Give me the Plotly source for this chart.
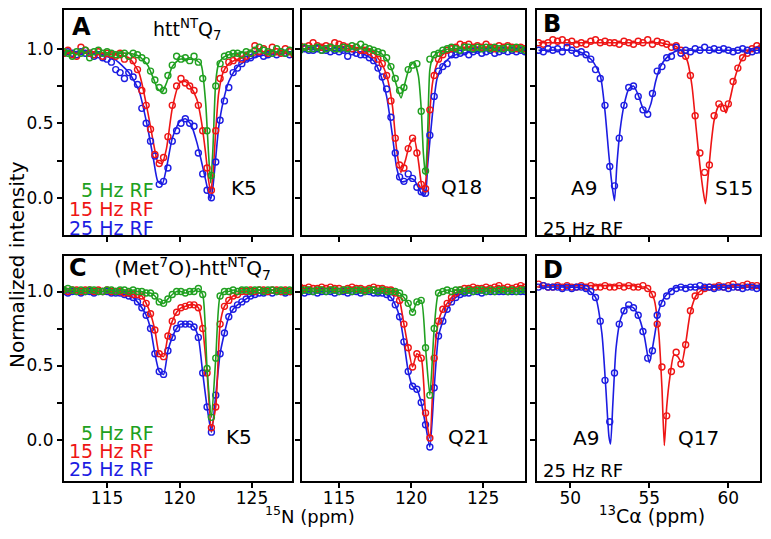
import plotly.graph_objects as go

W, H = 771, 539
FONT = "DejaVu Sans, Liberation Sans, Arial, sans-serif"
GREEN, RED, BLUE = "#20a020", "#ee1515", "#1c1ce2"

# shared sampling grids (ppm)
n15_ppm = [112.0, 112.3, 112.6, 112.9, 113.2, 113.5, 113.8, 114.1, 114.4, 114.7,
           115.0, 115.3, 115.6, 115.9, 116.2, 116.5, 116.8, 117.1, 117.4, 117.7,
           118.0, 118.3, 118.6, 118.9, 119.2, 119.5, 119.8, 120.1, 120.4, 120.7,
           121.0, 121.3, 121.6, 121.9, 122.2, 122.5, 122.8, 123.1, 123.4, 123.7,
           124.0, 124.3, 124.6, 124.9, 125.2, 125.5, 125.8, 126.1, 126.4, 126.7,
           127.0, 127.3, 127.6, 127.9]
c13_ppm = [48.0, 48.3, 48.6, 48.9, 49.2, 49.5, 49.8, 50.1, 50.4, 50.7,
           51.0, 51.3, 51.6, 51.9, 52.2, 52.5, 52.8, 53.1, 53.4, 53.7,
           54.0, 54.3, 54.6, 54.9, 55.2, 55.5, 55.8, 56.1, 56.4, 56.7,
           57.0, 57.3, 57.6, 57.9, 58.2, 58.5, 58.8, 59.1, 59.4, 59.7,
           60.0, 60.3, 60.6, 60.9, 61.2, 61.5, 61.8, 62.1]

# ---- panel A: httNTQ7, K5 ----
a_5hz = [0.98, 0.97, 0.95, 0.98, 0.97, 0.99, 0.94, 0.98, 0.99, 0.97,
         0.98, 0.97, 0.96, 0.96, 0.97, 0.95, 0.97, 0.96, 0.94, 0.92,
         0.85, 0.79, 0.74, 0.72, 0.82, 0.89, 0.95, 0.93, 0.94, 0.92,
         0.95, 0.91, 0.80, 0.45, 0.15, 0.75, 0.90, 0.95, 0.96, 0.97,
         0.97, 0.96, 0.98, 0.97, 0.99, 1.01, 0.99, 0.98, 0.97, 1.00,
         0.98, 0.97, 0.99, 0.97]
a_15hz = [0.97, 0.99, 0.96, 0.95, 1.01, 0.99, 0.97, 0.96, 0.98, 0.95,
          0.97, 0.96, 0.95, 0.97, 0.93, 0.95, 0.92, 0.86, 0.72, 0.62,
          0.46, 0.29, 0.23, 0.27, 0.41, 0.62, 0.75, 0.80, 0.77, 0.75,
          0.72, 0.62, 0.45, 0.20, 0.05, 0.45, 0.80, 0.86, 0.91, 0.92,
          0.94, 0.93, 0.95, 0.97, 1.02, 0.98, 1.00, 0.97, 1.01, 0.98,
          0.97, 1.00, 0.98, 0.96]
a_25hz = [0.97, 0.98, 0.97, 0.96, 0.98, 0.97, 0.97, 0.95, 0.96, 0.94,
          0.93, 0.91, 0.86, 0.84, 0.80, 0.84, 0.81, 0.76, 0.60, 0.50,
          0.38, 0.28, 0.09, 0.11, 0.20, 0.38, 0.45, 0.50, 0.53, 0.50,
          0.48, 0.30, 0.16, 0.05, 0.00, 0.24, 0.52, 0.65, 0.74, 0.84,
          0.87, 0.90, 0.93, 0.94, 0.96, 0.97, 0.95, 0.96, 0.97, 0.96,
          0.98, 0.97, 0.96, 0.97]
a_fit_ppm = [112.0, 114.0, 115.5, 116.5, 117.2, 117.8, 118.2, 118.5, 118.8, 119.1,
             119.5, 120.0, 120.4, 120.8, 121.2, 121.5, 121.8, 122.0, 122.15, 122.3,
             122.5, 122.7, 123.0, 123.4, 124.0, 124.8, 126.0, 128.0]
a_fit_5hz = [0.98, 0.98, 0.97, 0.97, 0.95, 0.89, 0.80, 0.73, 0.71, 0.77,
             0.88, 0.93, 0.93, 0.93, 0.92, 0.89, 0.64, 0.30, 0.10, 0.32,
             0.78, 0.90, 0.94, 0.96, 0.97, 0.98, 0.98, 0.98]
a_fit_15hz = [0.97, 0.97, 0.96, 0.94, 0.84, 0.58, 0.37, 0.24, 0.23, 0.33,
              0.60, 0.77, 0.78, 0.74, 0.66, 0.52, 0.30, 0.12, 0.04, 0.15,
              0.45, 0.70, 0.84, 0.90, 0.93, 0.95, 0.97, 0.97]
a_fit_25hz = [0.97, 0.97, 0.93, 0.84, 0.72, 0.47, 0.26, 0.11, 0.09, 0.20,
              0.40, 0.51, 0.53, 0.49, 0.37, 0.25, 0.12, 0.03, -0.01, 0.07,
              0.27, 0.47, 0.64, 0.78, 0.88, 0.93, 0.96, 0.97]

# ---- panel A, middle: Q18 ----
q18_5hz = [1.00, 0.99, 1.01, 1.00, 1.00, 1.01, 0.99, 1.00, 1.01, 1.00,
           1.00, 1.01, 1.00, 1.02, 1.01, 1.03, 1.01, 1.00, 0.99, 0.98,
           0.97, 0.94, 0.88, 0.80, 0.72, 0.74, 0.86, 0.89, 0.90, 0.58,
           0.18, 0.93, 0.96, 0.97, 0.99, 1.00, 1.01, 1.00, 0.99, 1.01,
           1.01, 1.00, 1.01, 1.00, 1.01, 1.00, 1.01, 1.00, 1.00, 1.01,
           1.00, 1.01, 1.00, 0.99]
q18_15hz = [1.02, 1.02, 1.01, 1.02, 1.04, 1.02, 1.01, 1.02, 1.01, 1.04,
            1.03, 1.02, 1.01, 1.00, 1.01, 0.99, 0.99, 0.98, 0.96, 0.93,
            0.90, 0.82, 0.65, 0.40, 0.22, 0.20, 0.33, 0.40, 0.30, 0.09,
            0.06, 0.59, 0.82, 0.93, 0.96, 0.99, 1.00, 1.01, 1.03, 1.02,
            1.03, 1.01, 1.02, 1.01, 1.03, 1.01, 1.00, 1.02, 1.01, 1.02,
            1.01, 1.00, 1.01, 1.00]
q18_25hz = [0.99, 0.99, 1.00, 0.99, 0.99, 1.00, 0.99, 0.99, 0.98, 0.99,
            0.98, 0.99, 0.95, 0.98, 0.97, 0.96, 0.96, 0.94, 0.92, 0.87,
            0.81, 0.73, 0.54, 0.30, 0.14, 0.11, 0.16, 0.13, 0.07, 0.04,
            0.03, 0.42, 0.68, 0.85, 0.88, 0.90, 0.96, 0.96, 0.97, 0.98,
            0.96, 0.98, 0.99, 0.97, 0.98, 0.99, 0.97, 0.98, 0.99, 0.98,
            0.99, 0.98, 0.99, 0.98]
q18_fit_ppm = [112.0, 114.0, 116.0, 116.8, 117.4, 117.9, 118.3, 118.7, 119.0, 119.3,
               119.6, 119.9, 120.2, 120.5, 120.7, 120.85, 121.0, 121.15, 121.3, 121.5,
               121.8, 122.2, 122.8, 123.6, 124.5, 126.0, 128.0]
q18_fit_5hz = [1.00, 1.00, 1.00, 1.00, 0.99, 0.97, 0.93, 0.85, 0.75, 0.67,
               0.78, 0.88, 0.91, 0.82, 0.60, 0.30, 0.15, 0.45, 0.86, 0.94,
               0.97, 0.99, 1.00, 1.00, 1.00, 1.00, 1.00]
q18_fit_15hz = [1.02, 1.02, 1.01, 1.00, 0.97, 0.91, 0.82, 0.62, 0.32, 0.17,
                0.25, 0.36, 0.40, 0.25, 0.10, 0.05, 0.10, 0.30, 0.58, 0.78,
                0.90, 0.96, 0.99, 1.01, 1.01, 1.01, 1.01]
q18_fit_25hz = [1.00, 0.99, 0.98, 0.96, 0.92, 0.82, 0.68, 0.42, 0.20, 0.11,
                0.11, 0.13, 0.12, 0.07, 0.03, 0.01, 0.03, 0.22, 0.38, 0.58,
                0.80, 0.89, 0.95, 0.97, 0.98, 0.99, 0.99]

# ---- panel B: 13C alpha, A9 (blue) and S15 (red) ----
b_a9 = [0.99, 0.98, 1.00, 0.99, 1.00, 0.98, 1.01, 0.99, 0.97, 0.98,
        0.96, 0.93, 0.86, 0.80, 0.62, 0.21, 0.08, 0.40, 0.62, 0.74,
        0.75, 0.68, 0.59, 0.56, 0.70, 0.85, 0.88, 0.94, 0.95, 1.01,
        0.97, 0.99, 0.98, 1.00, 0.99, 1.01, 0.99, 1.00, 0.99, 1.00,
        0.99, 0.98, 0.99, 1.00, 0.99, 0.98, 0.99, 0.99]
b_s15 = [1.04, 1.03, 1.04, 1.06, 1.05, 1.06, 1.04, 1.05, 1.03, 1.04,
         1.03, 1.05, 1.06, 1.04, 1.05, 1.04, 1.04, 1.03, 1.05, 1.04,
         1.03, 1.05, 1.04, 1.06, 1.03, 1.05, 1.04, 1.03, 1.01, 1.02,
         0.99, 0.95, 0.82, 0.55, 0.30, 0.17, 0.22, 0.55, 0.63, 0.60,
         0.63, 0.78, 0.87, 0.94, 0.97, 1.00, 1.02, 1.01]
b_fit_ppm = [48.0, 50.0, 50.8, 51.4, 51.9, 52.2, 52.45, 52.65, 52.8, 52.95,
             53.15, 53.4, 53.7, 54.0, 54.3, 54.6, 54.85, 55.1, 55.4, 55.7,
             56.1, 56.6, 57.0, 57.4, 57.7, 57.95, 58.2, 58.4, 58.55, 58.7,
             58.9, 59.1, 59.4, 59.6, 59.85, 60.1, 60.4, 60.8, 61.3, 62.0]
b_fit_a9 = [0.99, 0.99, 0.97, 0.92, 0.82, 0.58, 0.28, 0.08, -0.02, 0.22,
            0.45, 0.62, 0.73, 0.75, 0.69, 0.60, 0.57, 0.63, 0.78, 0.88,
            0.94, 0.98, 0.99, 0.99, 0.99, 0.99, 0.99, 0.99, 0.99, 0.99,
            0.99, 0.99, 0.99, 0.99, 0.99, 0.99, 0.99, 0.99, 0.99, 0.99]
b_fit_s15 = [1.04, 1.04, 1.04, 1.04, 1.04, 1.04, 1.04, 1.04, 1.04, 1.04,
             1.04, 1.04, 1.04, 1.04, 1.04, 1.04, 1.04, 1.04, 1.04, 1.04,
             1.03, 1.02, 0.99, 0.92, 0.75, 0.48, 0.22, 0.05, -0.04, 0.12,
             0.35, 0.52, 0.62, 0.63, 0.57, 0.66, 0.80, 0.92, 0.99, 1.02]

# ---- panel C: (Met7O)-httNTQ7, K5 ----
c_5hz = [1.01, 1.02, 1.01, 1.00, 1.01, 1.00, 1.01, 1.01, 1.00, 1.00,
         1.01, 1.01, 1.00, 1.01, 1.01, 1.00, 1.01, 1.00, 1.00, 0.99,
         0.99, 0.97, 0.93, 0.92, 0.95, 0.98, 1.00, 1.00, 0.99, 1.00,
         1.00, 1.02, 0.98, 0.48, 0.15, 0.55, 0.97, 1.00, 1.00, 1.01,
         1.00, 1.01, 1.01, 1.00, 1.01, 1.01, 1.00, 1.01, 1.01, 1.00,
         1.01, 1.00, 1.01, 1.00]
c_15hz = [1.01, 1.00, 1.01, 1.01, 1.00, 1.01, 1.01, 1.00, 1.01, 1.00,
          1.01, 1.00, 1.00, 1.00, 0.99, 0.99, 0.98, 0.98, 0.97, 0.92,
          0.85, 0.74, 0.58, 0.56, 0.70, 0.80, 0.86, 0.89, 0.90, 0.91,
          0.91, 0.89, 0.75, 0.45, 0.08, 0.22, 0.78, 0.90, 0.94, 0.97,
          0.98, 1.00, 1.00, 1.01, 1.00, 1.01, 1.01, 1.00, 1.01, 1.01,
          1.00, 1.01, 1.00, 1.01]
c_25hz = [1.00, 0.99, 1.00, 1.00, 0.99, 1.00, 1.00, 0.99, 1.00, 1.00,
          1.00, 0.99, 0.99, 0.99, 0.98, 0.97, 0.96, 0.93, 0.89, 0.84,
          0.75, 0.58, 0.46, 0.44, 0.60, 0.69, 0.75, 0.78, 0.78, 0.78,
          0.76, 0.69, 0.45, 0.22, 0.05, 0.30, 0.58, 0.72, 0.83, 0.88,
          0.91, 0.93, 0.95, 0.97, 0.98, 0.99, 0.99, 1.00, 0.99, 1.00,
          1.00, 0.99, 1.00, 1.00]

# ---- panel C, middle: Q21 ----
q21_5hz = [1.01, 1.00, 1.01, 1.01, 1.00, 1.01, 1.01, 1.00, 1.01, 1.01,
           1.00, 1.01, 1.01, 1.00, 1.01, 1.01, 1.00, 1.01, 1.01, 1.00,
           1.01, 1.00, 1.00, 1.00, 0.99, 0.96, 0.92, 0.86, 0.93, 0.94,
           0.62, 0.30, 0.75, 0.99, 1.00, 1.01, 1.00, 1.01, 1.01, 1.00,
           1.01, 1.00, 1.01, 1.01, 1.00, 1.01, 1.00, 1.01, 1.01, 1.00,
           1.01, 1.00, 1.01, 1.01]
q21_15hz = [1.02, 1.03, 1.02, 1.03, 1.02, 1.02, 1.03, 1.02, 1.03, 1.02,
            1.02, 1.01, 1.02, 1.03, 1.02, 1.02, 1.01, 1.02, 1.03, 1.02,
            1.02, 1.01, 1.01, 0.99, 0.94, 0.78, 0.62, 0.49, 0.58, 0.55,
            0.18, 0.01, 0.55, 0.80, 0.88, 0.92, 0.96, 0.99, 1.01, 1.02,
            1.02, 1.03, 1.02, 1.02, 1.03, 1.02, 1.03, 1.04, 1.02, 1.03,
            1.02, 1.03, 1.04, 1.03]
q21_25hz = [1.00, 1.00, 0.99, 1.00, 1.00, 0.99, 1.00, 1.00, 1.00, 0.99,
            1.00, 1.00, 0.99, 1.00, 1.00, 0.99, 1.00, 1.00, 0.99, 0.99,
            0.99, 0.98, 0.96, 0.91, 0.83, 0.66, 0.46, 0.36, 0.34, 0.25,
            0.10, -0.05, 0.35, 0.70, 0.80, 0.88, 0.93, 0.96, 0.98, 0.99,
            0.99, 1.00, 1.00, 0.99, 1.00, 1.00, 1.00, 1.00, 1.00, 1.00,
            1.00, 1.00, 1.00, 1.00]

# ---- panel D: 13C alpha, A9 (blue) and Q17 (red) ----
d_a9 = [1.03, 1.04, 1.03, 1.03, 1.03, 1.02, 1.03, 1.02, 1.03, 1.03,
        1.02, 1.00, 0.96, 0.80, 0.40, 0.12, 0.45, 0.78, 0.87, 0.91,
        0.89, 0.84, 0.73, 0.55, 0.60, 0.84, 0.92, 0.97, 1.00, 1.02,
        1.03, 1.02, 1.03, 1.03, 1.04, 1.03, 1.03, 1.02, 1.03, 1.03,
        1.02, 1.03, 1.03, 1.02, 1.03, 1.03, 1.02, 1.03]
d_q17 = [1.05, 1.04, 1.03, 1.03, 1.04, 1.03, 1.04, 1.03, 1.03, 1.04,
         1.03, 1.04, 1.03, 1.03, 1.04, 1.03, 1.03, 1.04, 1.03, 1.04,
         1.03, 1.03, 1.04, 1.02, 0.98, 0.78, 0.49, 0.16, 0.46, 0.59,
         0.51, 0.64, 0.87, 0.97, 1.00, 1.02, 1.03, 1.03, 1.04, 1.03,
         1.04, 1.05, 1.03, 1.04, 1.05, 1.04, 1.04, 1.03]
d_fit_ppm = [48.0, 50.0, 51.0, 51.6, 52.0, 52.25, 52.45, 52.55, 52.7, 52.9,
             53.2, 53.6, 54.0, 54.4, 54.7, 55.0, 55.3, 55.6, 55.8, 55.95,
             56.1, 56.3, 56.55, 56.8, 57.05, 57.3, 57.6, 58.0, 58.5, 59.5,
             62.0]
d_fit_a9 = [1.03, 1.03, 1.02, 0.96, 0.72, 0.35, 0.02, -0.03, 0.25, 0.62,
            0.82, 0.90, 0.89, 0.81, 0.69, 0.52, 0.68, 0.87, 0.93, 0.96,
            0.98, 1.00, 1.02, 1.03, 1.03, 1.03, 1.03, 1.03, 1.03, 1.03,
            1.03]
d_fit_q17 = [1.04, 1.04, 1.04, 1.04, 1.04, 1.04, 1.04, 1.04, 1.04, 1.04,
             1.04, 1.04, 1.04, 1.03, 1.03, 1.01, 0.95, 0.72, 0.35, -0.04,
             0.22, 0.42, 0.57, 0.56, 0.52, 0.65, 0.86, 0.98, 1.02, 1.04,
             1.04]


def fx(px):
    return px / W


def fy(py):
    return 1 - py / H


fig = go.Figure()


def add_points(ax, x, y, color):
    fig.add_trace(go.Scatter(x=x, y=y, xaxis="x" + ax, yaxis="y" + ax, mode="markers",
                             marker=dict(symbol="circle-open", size=6, color=color,
                                         line=dict(width=1.4, color=color)),
                             showlegend=False, hoverinfo="skip"))


def add_curve(ax, x, y, color):
    fig.add_trace(go.Scatter(x=x, y=y, xaxis="x" + ax, yaxis="y" + ax, mode="lines",
                             line=dict(color=color, width=1.6, shape="spline", smoothing=0.6),
                             showlegend=False, hoverinfo="skip"))


# A (fits + points)
add_curve("", a_fit_ppm, a_fit_25hz, BLUE)
add_curve("", a_fit_ppm, a_fit_15hz, RED)
add_curve("", a_fit_ppm, a_fit_5hz, GREEN)
add_points("", n15_ppm, a_25hz, BLUE)
add_points("", n15_ppm, a_15hz, RED)
add_points("", n15_ppm, a_5hz, GREEN)
# Q18
add_curve("2", q18_fit_ppm, q18_fit_25hz, BLUE)
add_curve("2", q18_fit_ppm, q18_fit_15hz, RED)
add_curve("2", q18_fit_ppm, q18_fit_5hz, GREEN)
add_points("2", n15_ppm, q18_25hz, BLUE)
add_points("2", n15_ppm, q18_15hz, RED)
add_points("2", n15_ppm, q18_5hz, GREEN)
# B
add_curve("3", b_fit_ppm, b_fit_s15, RED)
add_curve("3", b_fit_ppm, b_fit_a9, BLUE)
add_points("3", c13_ppm, b_s15, RED)
add_points("3", c13_ppm, b_a9, BLUE)
# C (lines through the points)
for ax, series in [("4", [(c_25hz, BLUE), (c_15hz, RED), (c_5hz, GREEN)]),
                   ("5", [(q21_25hz, BLUE), (q21_15hz, RED), (q21_5hz, GREEN)])]:
    for y, col in series:
        add_curve(ax, n15_ppm, y, col)
        add_points(ax, n15_ppm, y, col)
# D
add_curve("6", d_fit_ppm, d_fit_q17, RED)
add_curve("6", d_fit_ppm, d_fit_a9, BLUE)
add_points("6", c13_ppm, d_q17, RED)
add_points("6", c13_ppm, d_a9, BLUE)

cols = [(64, 292), (302, 525), (537, 760)]
rows = [(10, 235), (256, 481)]
x_ranges = [[112.03, 127.76], [112.43, 127.9], [47.9, 62.0]]
x_ticks = [[115, 120, 125], [115, 120, 125], [50, 55, 60]]
y_ranges = [[-0.25, 1.26], [-0.28, 1.24]]

axis_style = dict(showline=True, linecolor="black", linewidth=2, mirror=True,
                  ticks="outside", ticklen=5, tickwidth=1.5, tickcolor="black",
                  showgrid=False, zeroline=False,
                  tickfont=dict(family=FONT, size=17, color="black"))

layout_axes = {}
for i, (r, c) in enumerate([(0, 0), (0, 1), (0, 2), (1, 0), (1, 1), (1, 2)]):
    key = "" if i == 0 else str(i + 1)
    layout_axes["xaxis" + key] = dict(axis_style, domain=[fx(cols[c][0]), fx(cols[c][1])],
                                      range=x_ranges[c], anchor="y" + key,
                                      tickvals=x_ticks[c], showticklabels=(r == 1),
                                      ticklabelstandoff=-4)
    layout_axes["yaxis" + key] = dict(axis_style, domain=[fy(rows[r][1]), fy(rows[r][0])],
                                      range=y_ranges[r], anchor="x" + key,
                                      tickvals=[0, 0.5, 1.0], tickformat=".1f",
                                      minor=dict(tickvals=[0.25, 0.75], ticks="outside",
                                                 ticklen=5, tickwidth=1.5, tickcolor="black",
                                                 showgrid=False),
                                      showticklabels=(c == 0))


def note(text, x, y, size=20, color="black", xanchor="left", angle=0, height=None):
    return dict(text=text, x=fx(x), y=fy(y), xref="paper", yref="paper",
                xanchor=xanchor, yanchor="middle", showarrow=False, textangle=angle,
                height=height, font=dict(family=FONT, size=size, color=color))


annotations = [
    note("<b>A</b>", 70, 27, size=24),
    note("htt<sup>NT</sup>Q<sub>7</sub>", 151, 30, size=19),
    note("5 Hz RF", 156, 189, size=19, color=GREEN, xanchor="right", height=19),
    note("15 Hz RF", 156, 208, size=19, color=RED, xanchor="right", height=19),
    note("25 Hz RF", 156, 227, size=19, color=BLUE, xanchor="right", height=19),
    note("K5", 229, 188),
    note("Q18", 439, 187),
    note("<b>B</b>", 541, 24, size=24),
    note("A9", 569, 188),
    note("S15", 713, 188),
    note("25 Hz RF", 541, 229, size=18),
    note("<b>C</b>", 67, 268, size=24),
    note("(Met<sup>7</sup>O)-htt<sup>NT</sup>Q<sub>7</sub>", 112, 268, size=20),
    note("5 Hz RF", 156, 432, size=19, color=GREEN, xanchor="right", height=19),
    note("15 Hz RF", 156, 450, size=19, color=RED, xanchor="right", height=19),
    note("25 Hz RF", 156, 468, size=19, color=BLUE, xanchor="right", height=19),
    note("K5", 224, 437),
    note("Q21", 446, 437),
    note("<b>D</b>", 541, 270, size=24),
    note("A9", 571, 438),
    note("Q17", 676, 438),
    note("25 Hz RF", 541, 470, size=18),
    note("Normalized intensity", 17, 265, size=20, xanchor="center", angle=-90),
    note("<sup>15</sup>N (ppm)", 310, 515, size=18, xanchor="center"),
    note("<sup>13</sup>C\u03b1 (ppm)", 652, 515, size=19, xanchor="center"),
]

fig.update_layout(width=W, height=H, margin=dict(l=0, r=0, t=0, b=0),
                  paper_bgcolor="white", plot_bgcolor="white",
                  annotations=annotations, showlegend=False, **layout_axes)

# the page has a default body margin; drop it so the figure sits at the window corner
fig.write_html("out.html", config={"displayModeBar": False},
               post_script="document.body.style.margin = '0';")
